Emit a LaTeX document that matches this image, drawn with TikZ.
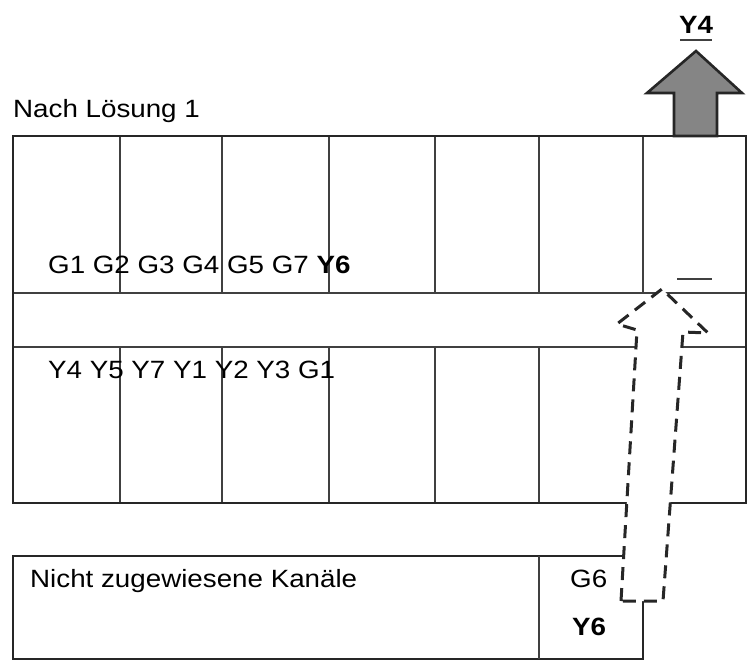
\documentclass[tikz,border=0pt]{standalone}
\usepackage{fontspec}
\setmainfont{Liberation Sans}[FakeStretch=1.11]
\begin{document}
\begin{tikzpicture}[x=1pt,y=-1pt,
  outer/.style={line width=2.8pt,draw=black!85},
  inner/.style={line width=1.7pt,draw=black!75},
  lbl/.style={anchor=base west,inner sep=0pt,font=\fontsize{25}{30}\selectfont},
  dasharrow/.style={line width=3pt,draw=black!85,fill=white,dash pattern=on 13pt off 8pt,line join=miter},
  grayarrow/.style={line width=2.6pt,draw=black!85,fill=black!48,line join=miter}]
\useasboundingbox (0,0) rectangle (753,665);
% main grid
\foreach \x in {120,222,329,435,539,643}{
  \draw[inner] (\x,136) -- (\x,293);
  \draw[inner] (\x,347) -- (\x,503);
}
\draw[inner] (13,293) -- (746,293);
\draw[inner] (13,347) -- (746,347);
\draw[outer] (13,136) rectangle (746,503);
% unassigned box
\draw[outer] (13,556) rectangle (643,659);
\draw[inner,line width=2.2pt] (539,556) -- (539,659);
% dashed arrow
\draw[dasharrow] (621,601) -- (637,330) -- (617,324) -- (662,289) -- (708,333) -- (683,332) -- (663,601) -- cycle;
\draw[inner] (677,279) -- (712,279);
% gray arrow
\draw[grayarrow] (674,136) -- (674,93) -- (647,93) -- (696,51) -- (742,93) -- (717,93) -- (717,136) -- cycle;
% labels
\node[lbl] (title) at (13,117) {Nach Lösung 1};
\node[lbl] (row1) at (48,273) {G1 G2 G3 G4 G5 G7 \textbf{Y6}};
\node[lbl] (row2) at (48,378) {Y4 Y5 Y7 Y1 Y2 Y3 G1};
\node[lbl] (unass) at (30,587) {Nicht zugewiesene Kanäle};
\node[lbl] (g6) at (570,587) {G6};
\node[lbl] (y6) at (572,635) {\textbf{Y6}};
\node[lbl,anchor=base] (y4) at (696,33) {\textbf{Y4}};
\draw[inner,line width=2pt] (680,40) -- (712,40);
\end{tikzpicture}
\end{document}
